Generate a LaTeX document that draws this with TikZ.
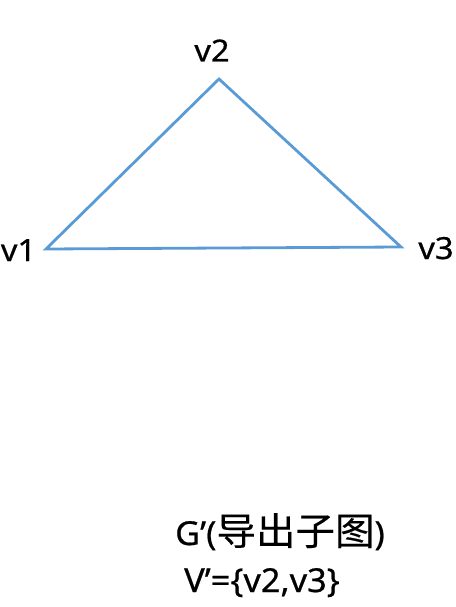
\documentclass[tikz,border=0pt]{standalone}
\usepackage{fontspec}
\setmainfont{Noto Sans}[FakeBold=0.6,AutoFakeBold=0.6]
\newfontfamily\cjk{Noto Sans CJK SC}[FakeBold=0.3]
\tikzset{
  edge/.style={draw={rgb,255:red,91;green,155;blue,213}, line width=2.8pt, line join=miter},
  vlabel/.style={font=\fontsize{30.5}{36}\selectfont\bfseries, inner sep=0pt, anchor=base, xscale=1.07},
  caption/.style={font=\fontsize{33}{40}\selectfont\bfseries, inner sep=0pt, anchor=base, xscale=1.04},
}
\begin{document}
\begin{tikzpicture}[x=1pt,y=-1pt]
\useasboundingbox (0,0) rectangle (455,607);
\coordinate (p1) at (46,249);
\coordinate (p2) at (219,79);
\coordinate (p3) at (401,247);
\draw[edge] (p1) -- (p2) -- (p3) -- cycle;
\node[vlabel] (l2) at (212,61.5) {v2};
\node[vlabel] (l1) at (18.5,261) {v1};
\node[vlabel] (l3) at (436,259) {v3};
\node[caption] (g) at (280,545) {G’({\cjk\mdseries\fontsize{38}{44}\selectfont 导出子图})};
\node[caption] (v) at (262,592) {V’=\{v2,v3\}};
\end{tikzpicture}
\end{document}
